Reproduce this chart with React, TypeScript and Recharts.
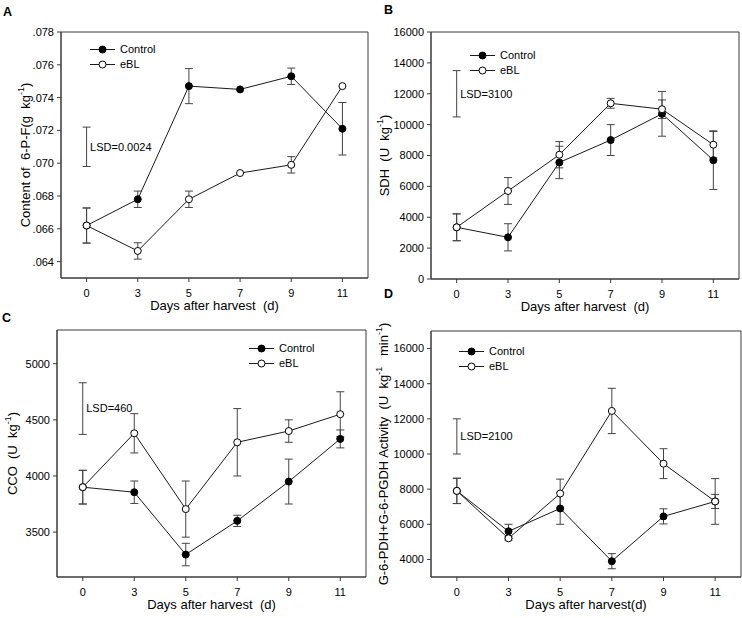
import React from 'react';
import { LineChart, Line, XAxis, YAxis, ErrorBar, ReferenceArea, ReferenceDot, Legend } from 'recharts';

// ---------- data ----------
const days = ['0', '3', '5', '7', '9', '11'];

// Panel A: Content of 6-P-F
const aControl = [0.0662, 0.0678, 0.0747, 0.0745, 0.0753, 0.0721];
const aControlErr = [0.00107, 0.0005, 0.00107, 0, 0.0005, 0.0016];
const aEBL = [0.0662, 0.06465, 0.0678, 0.0694, 0.0699, 0.0747];
const aEBLErr = [0.00107, 0.0005, 0.0005, 0, 0.0005, 0];
const aTicks = [0.064, 0.066, 0.068, 0.07, 0.072, 0.074, 0.076, 0.078];

// Panel B: SDH
const bControl = [3350, 2700, 7550, 9000, 10700, 7700];
const bControlErr = [870, 880, 1050, 1000, 1450, 1900];
const bEBL = [3350, 5700, 8050, 11380, 11000, 8700];
const bEBLErr = [870, 870, 850, 320, 600, 850];
const bTicks = [0, 2000, 4000, 6000, 8000, 10000, 12000, 14000, 16000];

// Panel C: CCO
const cControl = [3900, 3855, 3300, 3600, 3950, 4330];
const cControlErr = [150, 100, 100, 50, 200, 80];
const cEBL = [3900, 4380, 3705, 4300, 4400, 4550];
const cEBLErr = [150, 175, 250, 300, 100, 200];
const cTicks = [3500, 4000, 4500, 5000];

// Panel D: G-6-PDH + 6-PGDH
const dControl = [7900, 5600, 6900, 3900, 6450, 7300];
const dControlErr = [720, 400, 900, 430, 430, 400];
const dEBL = [7900, 5200, 7750, 12450, 9450, 7300];
const dEBLErr = [720, 100, 820, 1290, 850, 1300];
const dTicks = [4000, 6000, 8000, 10000, 12000, 14000, 16000];

// LSD bars (centre, half-length) and labels
const lsdCenters = [0.071, 12000, 4600, 11000];
const lsdHalves = [0.0012, 1500, 230, 1000];
const lsdLabels = ['LSD=0.0024', 'LSD=3100', 'LSD=460', 'LSD=2100'];

const yDomains: [number, number][] = [
  [0.063, 0.078],
  [0, 16000],
  [3100, 5300],
  [3000, 17000],
];

const seriesNames = ['Control', 'eBL'];
const panelLetters = ['A', 'B', 'C', 'D'];

// ---------- styling ----------
const FONT = '"Liberation Sans", Arial, Helvetica, sans-serif';
const AX = '#3a3a3a';
const LINE = '#1a1a1a';

type Part = { t: string; sup?: boolean };

function buildRows(control: number[], controlErr: number[], ebl: number[], eblErr: number[], lsdC: number, lsdH: number) {
  return days.map((d, i) => ({
    i,
    day: d,
    control: control[i],
    controlErr: controlErr[i],
    eBL: ebl[i],
    eBLErr: eblErr[i],
    lsd: i === 0 ? lsdC : undefined,
    lsdErr: i === 0 ? lsdH : undefined,
  }));
}

function makeYTitle(parts: Part[], dx: number) {
  return (props: any) => {
    const vb = props.viewBox || {};
    const cx = (vb.x || 0) + dx;
    const cy = (vb.y || 0) + (vb.height || 0) / 2;
    let prevSup = false;
    return (
      <text
        x={cx}
        y={cy}
        transform={`rotate(-90 ${cx} ${cy})`}
        textAnchor="middle"
        dominantBaseline="central"
        fontSize={13}
        fill="#000"
        style={{ whiteSpace: 'pre', fontFamily: FONT }}
      >
        {parts.map((p, k) => {
          let dy = 0;
          if (p.sup && !prevSup) dy = -4.5;
          if (!p.sup && prevSup) dy = 4.5;
          prevSup = !!p.sup;
          return (
            <tspan key={k} dy={dy} fontSize={p.sup ? 9 : 13}>
              {p.t}
            </tspan>
          );
        })}
      </text>
    );
  };
}

function makeXTitle(text: string, dy: number) {
  return (props: any) => {
    const vb = props.viewBox || {};
    const cx = (vb.x || 0) + (vb.width || 0) / 2;
    const cy = (vb.y || 0) + dy;
    return (
      <text
        x={cx}
        y={cy}
        textAnchor="middle"
        dominantBaseline="central"
        fontSize={13}
        fill="#000"
        style={{ whiteSpace: 'pre', fontFamily: FONT }}
      >
        {text}
      </text>
    );
  };
}

const renderLegend = (props: any) => {
  const payload = (props.payload || []).filter((p: any) => seriesNames.includes(p.value));
  return (
    <div style={{ fontFamily: FONT, fontSize: 11, color: '#000' }}>
      {payload.map((p: any) => (
        <div key={p.value} style={{ height: 15, display: 'flex', alignItems: 'center', whiteSpace: 'nowrap' }}>
          <svg width={25} height={15} style={{ display: 'block' }}>
            <line x1={0} y1={7.5} x2={25} y2={7.5} stroke={LINE} strokeWidth={1} />
            <circle cx={12.5} cy={7.5} r={3.5} fill={p.value === 'Control' ? '#000' : '#fff'} stroke="#000" strokeWidth={1} />
          </svg>
          <span style={{ marginLeft: 5, lineHeight: '15px' }}>{p.value}</span>
        </div>
      ))}
    </div>
  );
};

type PanelProps = {
  idx: number;
  left: number;
  top: number;
  height: number;
  rows: any[];
  yTicks: number[];
  yFmt: (v: number) => string;
  yAxisWidth: number;
  margin: { top: number; right: number; bottom: number; left: number };
  xAxisHeight: number;
  yTitle: Part[];
  yTitleX: number;
  xTitle: string;
  legendPos: { left: number; top: number };
};

function Panel(p: PanelProps) {
  const dom = yDomains[p.idx];
  return (
    <div style={{ position: 'absolute', left: p.left, top: p.top, fontFamily: FONT }}>
      <LineChart width={371} height={p.height} data={p.rows} margin={p.margin}>
        <XAxis
          dataKey="i"
          type="number"
          domain={[-0.5, 5.5]}
          ticks={[0, 1, 2, 3, 4, 5]}
          tickFormatter={(v: number) => days[v]}
          height={p.xAxisHeight}
          stroke={AX}
          tickSize={4}
          tickMargin={7}
          tick={{ fill: '#000', fontSize: 11 }}
          label={makeXTitle(p.xTitle, 27)}
          allowDataOverflow
        />
        <YAxis
          type="number"
          domain={dom}
          ticks={p.yTicks}
          tickFormatter={p.yFmt}
          width={p.yAxisWidth}
          stroke={AX}
          tickSize={4}
          tickMargin={3}
          tick={{ fill: '#000', fontSize: 11 }}
          label={makeYTitle(p.yTitle, p.yTitleX)}
          allowDataOverflow
        />
        <ReferenceArea x1={-0.5} x2={5.5} y1={dom[0]} y2={dom[1]} fill="none" stroke={AX} strokeWidth={1} />
        <Line
          dataKey="lsd"
          name="LSD"
          stroke="none"
          dot={false}
          activeDot={false}
          legendType="none"
          isAnimationActive={false}
        >
          <ErrorBar dataKey="lsdErr" width={4} stroke="#444" strokeWidth={1} />
        </Line>
        <Line
          dataKey="control"
          name="Control"
          stroke={LINE}
          strokeWidth={1}
          dot={{ r: 3.5, fill: '#000', stroke: '#000', strokeWidth: 1 }}
          activeDot={false}
          isAnimationActive={false}
        >
          <ErrorBar dataKey="controlErr" width={4} stroke="#444" strokeWidth={1} />
        </Line>
        <Line
          dataKey="eBL"
          name="eBL"
          stroke={LINE}
          strokeWidth={1}
          dot={{ r: 3.5, fill: '#fff', stroke: '#000', strokeWidth: 1 }}
          activeDot={false}
          isAnimationActive={false}
        >
          <ErrorBar dataKey="eBLErr" width={4} stroke="#444" strokeWidth={1} />
        </Line>
        <ReferenceDot
          x={0}
          y={lsdCenters[p.idx]}
          r={0}
          fill="none"
          stroke="none"
          label={{ value: lsdLabels[p.idx], position: 'right', offset: 3.5, fontSize: 11, fill: '#000' }}
        />
        <Legend
          layout="vertical"
          align="center"
          verticalAlign="middle"
          content={renderLegend}
          wrapperStyle={{ position: 'absolute', left: p.legendPos.left, top: p.legendPos.top, width: 'auto', height: 'auto' }}
        />
      </LineChart>
    </div>
  );
}

const fmtA = (v: number) => v.toFixed(3).replace(/^0/, '');
const fmtInt = (v: number) => String(v);

export default function App() {
  const rowsA = buildRows(aControl, aControlErr, aEBL, aEBLErr, lsdCenters[0], lsdHalves[0]);
  const rowsB = buildRows(bControl, bControlErr, bEBL, bEBLErr, lsdCenters[1], lsdHalves[1]);
  const rowsC = buildRows(cControl, cControlErr, cEBL, cEBLErr, lsdCenters[2], lsdHalves[2]);
  const rowsD = buildRows(dControl, dControlErr, dEBL, dEBLErr, lsdCenters[3], lsdHalves[3]);

  const letterPos = [
    { x: 3, y: 15.5 },
    { x: 384, y: 13.5 },
    { x: 2, y: 322 },
    { x: 384, y: 298 },
  ];

  return (
    <div style={{ position: 'absolute', left: 0, top: 0, width: 742, height: 618, background: '#fff', fontFamily: FONT }}>
      <Panel
        idx={0}
        left={0}
        top={0}
        height={322}
        rows={rowsA}
        yTicks={aTicks}
        yFmt={fmtA}
        yAxisWidth={61}
        margin={{ top: 32, right: 3, bottom: 0, left: 0 }}
        xAxisHeight={44}
        yTitle={[{ t: 'Content of  6-P-F(g  kg' }, { t: '-1', sup: true }, { t: ')' }]}
        yTitleX={25}
        xTitle="Days after harvest  (d)"
        legendPos={{ left: 90, top: 42 }}
      />
      <Panel
        idx={1}
        left={371}
        top={0}
        height={322}
        rows={rowsB}
        yTicks={bTicks}
        yFmt={fmtInt}
        yAxisWidth={60}
        margin={{ top: 32, right: 3, bottom: 0, left: 0 }}
        xAxisHeight={43}
        yTitle={[{ t: 'SDH  (U  kg' }, { t: '-1', sup: true }, { t: ')' }]}
        yTitleX={13}
        xTitle="Days after harvest  (d)"
        legendPos={{ left: 99, top: 48 }}
      />
      <Panel
        idx={2}
        left={0}
        top={309}
        height={309}
        rows={rowsC}
        yTicks={cTicks}
        yFmt={fmtInt}
        yAxisWidth={57}
        margin={{ top: 21, right: 5, bottom: 0, left: 0 }}
        xAxisHeight={41}
        yTitle={[{ t: 'CCO  (U  kg' }, { t: '-1', sup: true }, { t: ')' }]}
        yTitleX={12}
        xTitle="Days after harvest  (d)"
        legendPos={{ left: 249, top: 32 }}
      />
      <Panel
        idx={3}
        left={371}
        top={309}
        height={309}
        rows={rowsD}
        yTicks={dTicks}
        yFmt={fmtInt}
        yAxisWidth={60}
        margin={{ top: 22, right: 1, bottom: 0, left: 0 }}
        xAxisHeight={41}
        yTitle={[{ t: 'G-6-PDH+G-6-PGDH Activity  (U  kg' }, { t: '-1', sup: true }, { t: '   min' }, { t: '-1', sup: true }, { t: ')' }]}
        yTitleX={12}
        xTitle="Days after harvest(d)"
        legendPos={{ left: 88, top: 35 }}
      />
      <svg
        width={742}
        height={618}
        style={{ position: 'absolute', left: 0, top: 0, pointerEvents: 'none' }}
      >
        {panelLetters.map((l, k) => (
          <text key={l} x={letterPos[k].x} y={letterPos[k].y} fontSize={12.5} fontWeight="bold" fill="#000" style={{ fontFamily: FONT }}>
            {l}
          </text>
        ))}
      </svg>
    </div>
  );
}
